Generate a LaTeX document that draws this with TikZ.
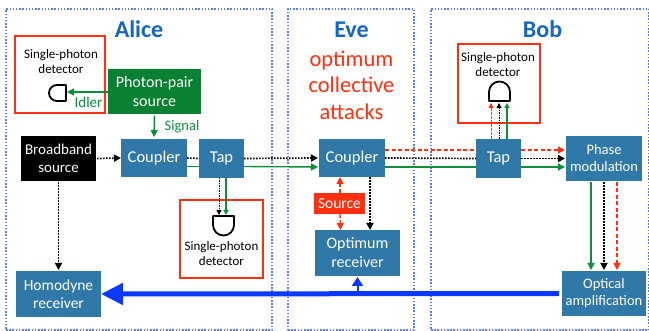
\documentclass[tikz,border=0pt]{standalone}
\usepackage{fontspec}
\setmainfont{Carlito}
\usetikzlibrary{arrows.meta,calc}
\definecolor{stepblue}{HTML}{2F78A8}
\definecolor{pairgreen}{HTML}{0A8032}
\definecolor{linegreen}{HTML}{0A9038}
\definecolor{hotred}{HTML}{FF3010}
\definecolor{partyblue}{HTML}{1466C0}
\definecolor{zoneblue}{HTML}{5A78FF}
\definecolor{busblue}{HTML}{0A38FF}
\newcommand{\fsz}[2]{\fontsize{#1}{#2}\selectfont}
\newcommand{\lowered}[1]{\raisebox{-1.5pt}{#1}}
\tikzset{
  x=1pt,y=-1pt,
  zone/.style={draw=zoneblue,line width=1.3pt,dash pattern=on 1.5pt off 1.7pt},
  block/.style={fill=stepblue,text=white,inner sep=0pt,outer sep=0pt,align=center,font=\fsz{14.5}{17}},
  spdbox/.style={draw=hotred,line width=2.5pt,inner sep=0pt,outer sep=0pt},
  spdlabel/.style={align=center,inner sep=0pt,font=\fsz{13}{15}},
  party/.style={text=partyblue,inner sep=0pt,font=\fontsize{24}{26}\bfseries\selectfont},
  detshape/.style={draw=black,line width=1.8pt,line join=round},
  anchorpt/.style={inner sep=0pt,outer sep=0pt,minimum size=0pt},
  fibreg/.style={draw=linegreen,line width=1.4pt,-{Triangle[length=7pt,width=7pt]}},
  fibrek/.style={draw=black,line width=1.7pt,dash pattern=on 1.7pt off 1.3pt,-{Triangle[length=7pt,width=7pt]}},
  fibrer/.style={draw=hotred,line width=1.4pt,dash pattern=on 4pt off 2.5pt,-{Triangle[length=7pt,width=7pt]}},
}
\begin{document}
\begin{tikzpicture}
\useasboundingbox (0,0) rectangle (649,331);
\fill[white] (0,0) rectangle (649,331);
% zones
\node[zone,minimum width=266,minimum height=321,inner sep=0pt] (alicezone) at (139,169.5) {};
\node[zone,minimum width=126,minimum height=321,inner sep=0pt] (evezone) at (351,169.5) {};
\node[zone,minimum width=218,minimum height=321,inner sep=0pt] (bobzone) at (540,169.5) {};
% titles
\node[party] (alice) at (139,29.5) {Alice};
\node[party] (eve) at (351.5,29.5) {Eve};
\node[party] (bob) at (542.5,29.5) {Bob};
\node[text=hotred,align=center,inner sep=0pt,font=\fsz{22.5}{26.5}] (attack) at (351.5,85) {optimum\\collective\\attacks};
% blocks
\node[block,minimum width=93,minimum height=45,fill=pairgreen,font=\fsz{16}{19}] (pair) at (154.5,92) {Photon-pair\\source};
\node[block,minimum width=75,minimum height=45,fill=black,font=\fsz{15}{18}] (broad) at (58.5,158.5) {Broadband\\source};
\node[block,minimum width=66,minimum height=38,font=\fsz{16.5}{19}] (coupA) at (154,158) {\lowered{Coupler}};
\node[block,minimum width=45,minimum height=39,font=\fsz{16.5}{19}] (tapA) at (221.5,158.5) {\lowered{Tap}};
\node[block,minimum width=66,minimum height=38,font=\fsz{16.5}{19}] (coupE) at (352,158) {\lowered{Coupler}};
\node[block,minimum width=45,minimum height=39,font=\fsz{16.5}{19}] (tapB) at (498.5,158.5) {\lowered{Tap}};
\node[block,minimum width=76,minimum height=45] (phase) at (604,158.5) {Phase\\modulation};
\node[block,minimum width=85,minimum height=46,font=\fsz{15.5}{18}] (homo) at (58.5,294) {Homodyne\\receiver};
\node[block,minimum width=85,minimum height=46,font=\fsz{16}{19}] (optrx) at (357.5,253) {Optimum\\receiver};
\node[block,minimum width=84,minimum height=45] (amp) at (604,293.5) {Optical\\amplification};
\node[block,minimum width=51,minimum height=21,fill=hotred,font=\fsz{15.5}{18}] (src) at (339.5,203.5) {Source};
% detector boxes
\node[spdbox,minimum width=90,minimum height=77] (spdA) at (60,74.5) {};
\node[spdbox,minimum width=82,minimum height=79] (spdB) at (499,83.5) {};
\node[spdbox,minimum width=83,minimum height=78] (spdC) at (221.5,239) {};
\node[spdlabel] (spdAt) at (61,62) {Single-photon\\detector};
\node[spdlabel] (spdBt) at (498,65) {Single-photon\\detector};
\node[spdlabel] (spdCt) at (221.5,254) {Single-photon\\detector};
% detectors
\draw[detshape] (66,85) -- (57,85) arc[start angle=90,end angle=270,radius=8pt] -- (66,101) -- cycle;
\node[anchorpt] (detA) at (67,92) {};
\draw[detshape] (489,101) -- (489,92) arc[start angle=180,end angle=0,radius=10.5pt] -- (510,101) -- cycle;
\node[anchorpt] (detB) at (499.5,103) {};
\draw[detshape] (213,216) -- (213,225) arc[start angle=180,end angle=360,radius=10.5pt] -- (234,216) -- cycle;
\node[anchorpt] (detC) at (223.5,215) {};
% source arrows
\draw[fibreg] (pair.west |- detA) -- (detA);
\node[text=linegreen,inner sep=0pt,font=\fsz{15}{16}] (idler) at (88.5,102) {Idler};
\draw[fibreg] ([yshift=-1pt]pair.south) -- ([yshift=2pt]coupA.north);
\node[text=linegreen,inner sep=0pt,font=\fsz{14.5}{16}] (signal) at (182,126.5) {Signal};
% black line
\draw[fibrek] ([xshift=1pt]broad.east) -- (coupA.west);
\draw[fibrek,-] (coupA.east) -- (tapA.west);
\draw[fibrek] (tapA.east) -- ([xshift=-1pt]coupE.west);
\draw[fibrek,-] (coupE.east) -- (tapB.west);
\draw[fibrek] (tapB.east) -- ([xshift=-1pt]phase.west);
% green line
\draw[fibreg,-] ([yshift=-8.5pt]coupA.east) -- ([yshift=-8pt]tapA.west);
\draw[fibreg] ([yshift=-8pt]tapA.east) -- ([xshift=-1pt,yshift=-9pt]coupE.west);
\draw[fibreg,-] ([yshift=-9pt]coupE.east) -- ([yshift=-8.5pt]tapB.west);
\draw[fibreg] ([yshift=-8.5pt]tapB.east) -- ([xshift=-1pt,yshift=-8.5pt]phase.west);
% red line
\draw[fibrer,-] ([yshift=8pt]coupE.east) -- ([yshift=8.5pt]tapB.west);
\draw[fibrer] ([yshift=8.5pt]tapB.east) -- ([xshift=-1pt,yshift=8.5pt]phase.west);
% tap to detectors
\draw[fibrek,line width=1pt,dash pattern=on 1.5pt off 1pt,-{Triangle[length=5pt,width=5pt]}] ([xshift=-2.5pt]tapA.south) -- ([xshift=-4.5pt]detC.center);
\draw[fibreg,-{Triangle[length=5pt,width=5pt]}] ([xshift=4.5pt]tapA.south) -- ([xshift=2.5pt]detC.center);
\draw[fibrer,line width=1pt,dash pattern=on 2.5pt off 1.5pt,-{Triangle[length=5pt,width=5pt]}] ([xshift=-7.5pt]tapB.north) -- ([xshift=-8.5pt]detB.center);
\draw[fibrek,line width=1pt,dash pattern=on 1.5pt off 1pt,-{Triangle[length=5pt,width=5pt]}] ([xshift=0.5pt]tapB.north) -- ([xshift=-0.5pt]detB.center);
\draw[fibreg,-{Triangle[length=5pt,width=5pt]}] ([xshift=8.5pt]tapB.north) -- ([xshift=7.5pt]detB.center);
% downward
\draw[fibrek] ([yshift=-1pt]broad.south) -- ([yshift=1pt]homo.north);
\draw[fibreg] ([xshift=-13pt,yshift=-1pt]phase.south) -- ([xshift=-13pt,yshift=1pt]amp.north);
\draw[fibrek] ([yshift=-1pt]phase.south) -- ([yshift=1pt]amp.north);
\draw[fibrer] ([xshift=13pt,yshift=-1pt]phase.south) -- ([xshift=13pt,yshift=1pt]amp.north);
\draw[fibrek] ([xshift=18pt]coupE.south) -- ([xshift=12.5pt]optrx.north);
% Eve source
\draw[fibrer,dash pattern=on 4pt off 2pt] ([xshift=0.5pt]src.north) -- ([xshift=-12pt]coupE.south);
\draw[fibrer,dash pattern=on 4pt off 2pt] ([xshift=0.5pt]src.south) -- ([xshift=-17pt]optrx.north);
% bus
\draw[draw=busblue,line width=5pt,-{Triangle[length=22pt,width=21pt]}] ([xshift=-3pt]amp.west) -- (homo.east);
\node[anchorpt] (tapbus) at (optrx.south |- amp.west) {};
\draw[draw=busblue,line width=2pt,-{Triangle[length=9pt,width=11pt]}] (tapbus) -- ([yshift=-1pt]optrx.south);
\end{tikzpicture}
\end{document}
